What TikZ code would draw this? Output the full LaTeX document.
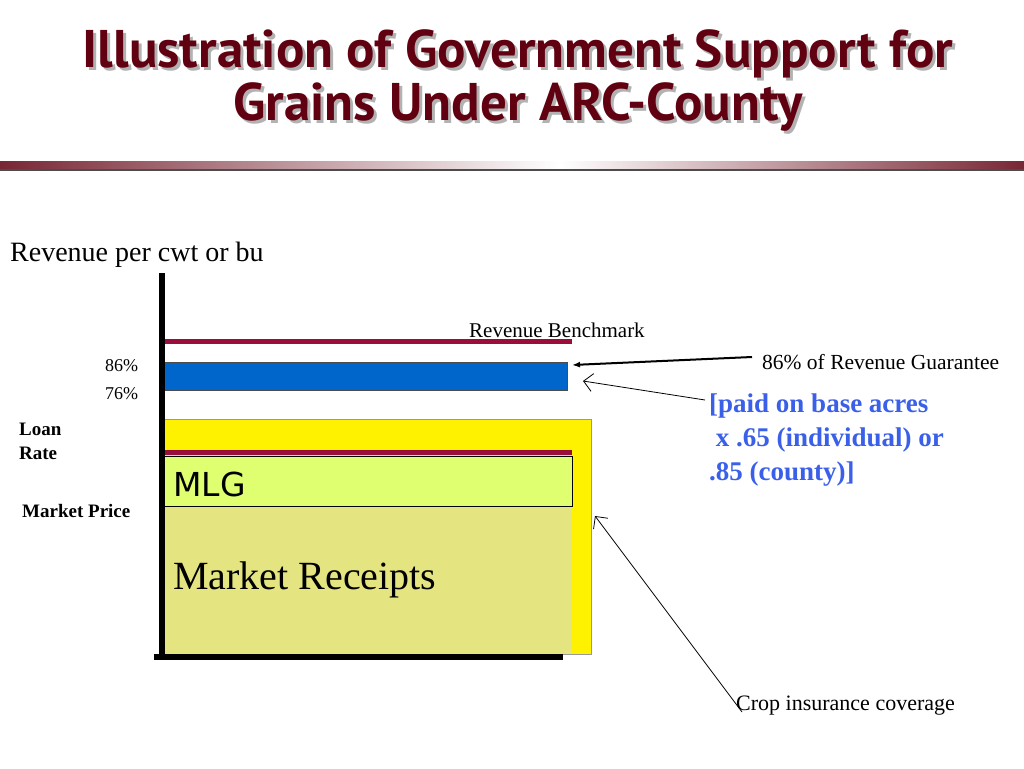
\documentclass[tikz,border=0pt]{standalone}
\usepackage{fontspec}
\usetikzlibrary{arrows.meta}
\setmainfont{Liberation Serif}
\newfontfamily\titlefont{PT Sans}
\newfontfamily\mlgfont{DejaVu Sans}
\begin{document}
\begin{tikzpicture}[x=1pt,y=-1pt,
  lbl/.style={inner sep=0pt,anchor=west}]
\useasboundingbox (0,0) rectangle (1024,768);
\definecolor{maroon}{HTML}{600010}
\definecolor{bench}{HTML}{9A0F3A}
\definecolor{bluebar}{HTML}{0066CC}
\definecolor{mlgfill}{HTML}{E0FF70}
\definecolor{mrfill}{HTML}{E4E480}
\definecolor{bluetxt}{HTML}{3A5FE8}
% title
\node[font=\titlefont\bfseries\fontsize{53}{53}\selectfont,text=gray!60,align=center] at (521,84) {Illustration of Government Support for\\Grains Under ARC-County};
\node (title) [font=\titlefont\bfseries\fontsize{53}{53}\selectfont,text=maroon,align=center] at (518,81) {Illustration of Government Support for\\Grains Under ARC-County};
% rule
\shade[left color=maroon!85,right color=white] (0,161) rectangle (560,169);
\shade[left color=white,right color=maroon!85] (560,161) rectangle (1024,169);
\fill[black!70] (0,169) rectangle (1024,170.5);
% axis label
\node (ylab) [lbl,font=\fontsize{28}{32}\selectfont] at (10,255) {Revenue per cwt or bu};
% boxes
\fill[yellow] (163,419) rectangle (591,654);
\draw[black!40,line width=0.6pt] (163,419) rectangle (591,654);
\node (mr) [fill=mrfill,inner sep=0pt,minimum width=409pt,minimum height=148pt,anchor=north west] at (163,506) {};
\node (mlg) [draw=black,fill=mlgfill,line width=0.6pt,inner sep=0pt,minimum width=409pt,minimum height=50pt,anchor=north west] at (163,456) {};
\node (blue) [draw=black!70,fill=bluebar,line width=0.6pt,inner sep=0pt,minimum width=404pt,minimum height=28pt,anchor=north west] at (163,362) {};
\draw[line width=5pt,draw=bench] (163,341) -- (572,341);
\draw[line width=5pt,draw=bench] (163,452) -- (572,452);
% axes
\draw[line width=6pt] (162,273) -- (162,660);
\draw[line width=6pt] (154,657) -- (563,657);
% texts
\node[lbl,font=\mlgfont\fontsize{33}{36}\selectfont] at (173,484) {MLG};
\node[lbl,font=\fontsize{40}{44}\selectfont] at (173,580) {Market Receipts};
\node (rb) [lbl,font=\fontsize{21}{24}\selectfont] at (469,330) {Revenue Benchmark};
\node[lbl,font=\fontsize{18}{20}\selectfont] at (105,366) {86\%};
\node[lbl,font=\fontsize{18}{20}\selectfont] at (105,394) {76\%};
\node[lbl,font=\bfseries\fontsize{19}{24}\selectfont,align=left] at (19,441) {Loan\\Rate};
\node[lbl,font=\bfseries\fontsize{19}{20}\selectfont] at (22,511) {Market Price};
\node (g86) [lbl,font=\fontsize{21.5}{24}\selectfont] at (762,362) {86\% of Revenue Guarantee};
\node (paid) [lbl,font=\bfseries\fontsize{27}{34}\selectfont,text=bluetxt,align=left,anchor=north west] at (709,394) {[paid on base acres\\\ x .65 (individual) or\\.85 (county)]};
\node (crop) [lbl,font=\fontsize{22}{24}\selectfont] at (736,706) {Crop insurance coverage};
% arrows
\coordinate (a1) at (572,365);
\coordinate (a2) at (583,381);
\coordinate (a3) at (595,516);
\draw[line width=2pt,-{Latex[length=8pt]}] (752,357) -- (a1);
\draw[line width=0.8pt,-{Straight Barb[length=9pt]}] (705,400) -- (a2);
\draw[line width=0.8pt,-{Straight Barb[length=9pt]}] (742,712) -- (a3);
\end{tikzpicture}
\end{document}
